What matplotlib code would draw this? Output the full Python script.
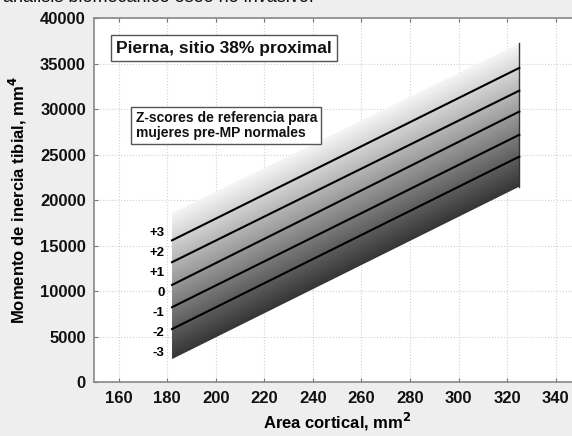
import numpy as np
import matplotlib.pyplot as plt
from matplotlib.patches import Polygon

plt.rcParams['font.family'] = ['Liberation Sans', 'DejaVu Sans']

# datos
area_ends = [182, 325]                      # area cortical, mm2
line_start = [15600, 13200, 10700, 8250, 5850]   # curvas z a 182 mm2
line_end = [34550, 32050, 29750, 27200, 24800]   # curvas z a 325 mm2
band_top = [18600, 37250]
band_bottom = [2550, 21500]
z_labels = ['+3', '+2', '+1', '0', '-1', '-2', '-3']
z_label_y = [16400, 14200, 12000, 9800, 7600, 5400, 3200]

fig = plt.figure(figsize=(5.72, 4.36), dpi=100)
fig.patch.set_facecolor('#eeeeee')
ax = fig.add_axes([0.1649, 0.1232, 0.8491, 0.8348])
ax.set_facecolor('white')

# banda con degradado
xs = np.linspace(area_ends[0], area_ends[1], 300)
ys = np.linspace(0, 40000, 400)
X, Y = np.meshgrid(xs, ys)
bot = np.interp(X, area_ends, band_bottom)
top = np.interp(X, area_ends, band_top)
frac = np.clip((Y - bot) / (top - bot), 0, 1)
img = ax.imshow(frac, extent=[area_ends[0], area_ends[1], 0, 40000], origin='lower',
                aspect='auto', cmap='gray', vmin=-0.28, vmax=1.05, zorder=2,
                interpolation='bilinear')
poly = Polygon([(area_ends[0], band_bottom[0]), (area_ends[1], band_bottom[1]),
                (area_ends[1], band_top[1]), (area_ends[0], band_top[0])],
               closed=True, facecolor='none', edgecolor='none')
ax.add_patch(poly)
img.set_clip_path(poly)
ax.plot([area_ends[1], area_ends[1]], [band_bottom[1], band_top[1]], color='#333333', lw=1, zorder=3)

for s, e in zip(line_start, line_end):
    ax.plot(area_ends, [s, e], color='black', lw=1.5, zorder=4)

for lab, y in zip(z_labels, z_label_y):
    ax.text(179, y, lab, ha='right', va='center', fontsize=9.5, fontweight='bold')

ax.set_xlim(150, 350)
ax.set_ylim(0, 40000)
ax.set_xticks(range(160, 341, 20))
ax.set_yticks(range(0, 40001, 5000))
ax.tick_params(direction='in', length=3, color='#777777', top=True, labelsize=12, pad=6)
for lab in ax.get_xticklabels() + ax.get_yticklabels():
    lab.set_fontweight('bold')
    lab.set_color('#111111')
ax.grid(True, color='#d0d0d0', linestyle=':', linewidth=0.8)
ax.set_axisbelow(True)
for sp in ax.spines.values():
    sp.set_color('#888888')
    sp.set_linewidth(1.2)

ax.set_xlabel('Area cortical, mm$^\\mathbf{2}$', fontsize=12, fontweight='bold', labelpad=4)
ax.set_ylabel('Momento de inercia tibial, mm$^\\mathbf{4}$', fontsize=12, fontweight='bold', labelpad=8)

ax.text(0.045, 0.918, 'Pierna, sitio 38% proximal', transform=ax.transAxes, fontsize=12.5,
        fontweight='bold', color='#111111', va='center', ha='left',
        bbox=dict(boxstyle='square,pad=0.3', facecolor='white', edgecolor='#555555', lw=1))
ax.text(0.085, 0.705, 'Z-scores de referencia para\nmujeres pre-MP normales', transform=ax.transAxes,
        fontsize=10, fontweight='bold', color='#111111', va='center', ha='left', linespacing=1.1,
        bbox=dict(boxstyle='square,pad=0.3', facecolor='white', edgecolor='#555555', lw=1))

fig.text(0.005, 1 - 2.5 / 436, 'análisis biomecánico óseo no invasivo.', fontsize=13,
         va='baseline', ha='left', color='#111111')

fig.savefig('out.png', dpi=100, facecolor=fig.get_facecolor())
